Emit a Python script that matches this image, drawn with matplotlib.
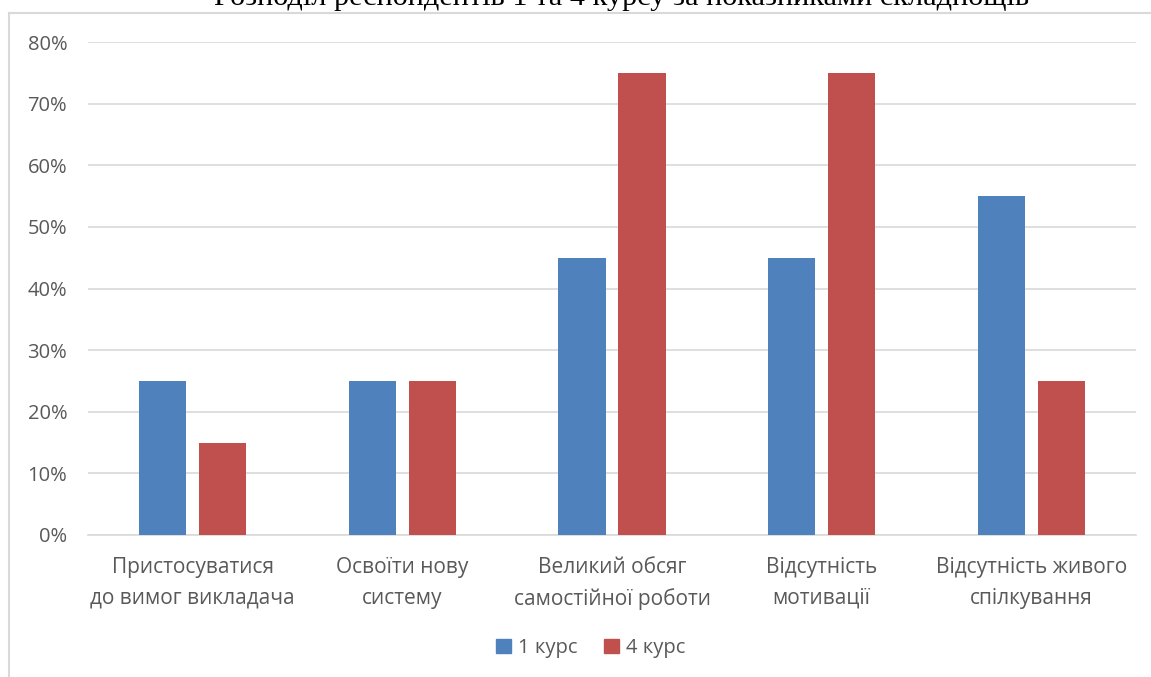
import numpy as np
import matplotlib.pyplot as plt
from matplotlib.lines import Line2D
from matplotlib.patches import Patch

# data
categories = ["Пристосуватися\nдо вимог викладача", "Освоїти нову\nсистему",
              "Великий обсяг\nсамостійної роботи", "Відсутність\nмотивації",
              "Відсутність живого\nспілкування"]
course_1 = [0.25, 0.25, 0.45, 0.45, 0.55]
course_4 = [0.15, 0.25, 0.75, 0.75, 0.25]
series_names = ["1 курс", "4 курс"]
title = "Розподіл респондентів 1 та 4 курсу за показниками складнощів"

W, H = 1151, 677
fig = plt.figure(figsize=(W / 100, H / 100), dpi=100)
plt.rcParams['font.family'] = ['Open Sans', 'DejaVu Sans']

# plot area in pixels
left, right, top, bottom = 88, 1136, 42, 535
ax = fig.add_axes([left / W, 1 - bottom / H, (right - left) / W, (bottom - top) / H])

x = np.arange(len(categories))
bw = 0.225
ax.bar(x - 0.143, course_1, bw, color="#4F81BD", label=series_names[0], zorder=3)
ax.bar(x + 0.143, course_4, bw, color="#C0504D", label=series_names[1], zorder=3)

ax.set_xlim(-0.5, len(categories) - 0.5)
ax.set_ylim(0, 0.8)
ax.set_yticks(np.arange(0, 0.81, 0.1))
ax.set_yticklabels([f"{int(round(v * 100))}%" for v in np.arange(0, 0.81, 0.1)])
ax.yaxis.grid(True, color="#D9D9D9", linewidth=1.2, zorder=0)
ax.set_xticks(x)
ax.set_xticklabels(categories, linespacing=1.6)
ax.tick_params(axis="x", length=0, labelsize=15, labelcolor="#595959", pad=16)
ax.tick_params(axis="y", length=0, labelsize=14.5, labelcolor="#595959", pad=15)
for s in ["top", "right", "left"]:
    ax.spines[s].set_visible(False)
ax.spines["bottom"].set_color("#D9D9D9")
ax.spines["bottom"].set_linewidth(1.2)

# legend
handles = [Patch(color="#4F81BD"), Patch(color="#C0504D")]
fig.legend(handles, series_names, loc="center", bbox_to_anchor=(591 / W, 1 - 648 / H),
           ncol=2, frameon=False, fontsize=14.5, labelcolor="#595959",
           handlelength=0.75, handleheight=0.75, handletextpad=0.35, columnspacing=1.3)

# chart border (top and left edges visible)
fig.add_artist(Line2D([8.5 / W, 8.5 / W], [0, 1 - 12.5 / H], color="#D9D9D9", linewidth=1.5))
fig.add_artist(Line2D([8.5 / W, 1], [1 - 12.5 / H, 1 - 12.5 / H], color="#D9D9D9", linewidth=1.5))

# title, cut off at the top edge like the reference
fig.text(622 / W, 1 - 5 / H, title, ha="center", va="baseline",
         family="Liberation Serif", fontsize=21.8, color="black")

fig.savefig("out.png", dpi=100)
